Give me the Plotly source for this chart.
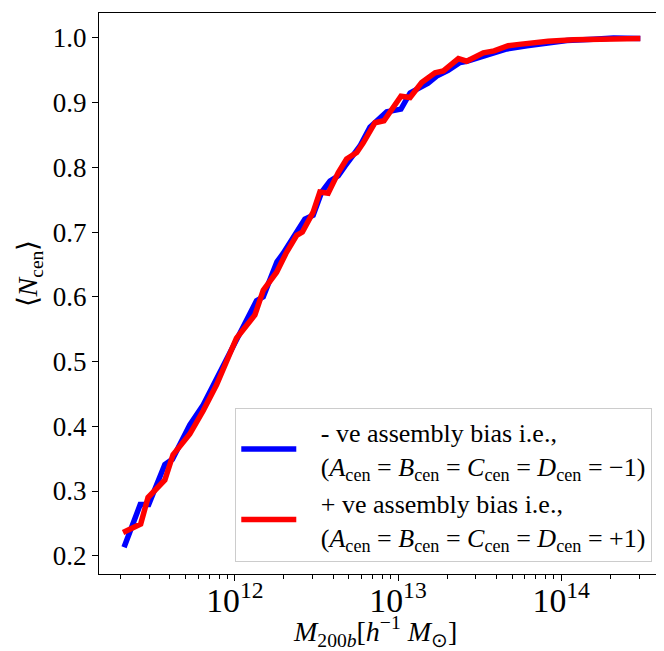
import numpy as np
import plotly.graph_objects as go

# log10(M200b) and <N_cen> for negative assembly bias (blue)
logm_neg = [11.321, 11.420, 11.472, 11.571, 11.617, 11.724, 11.806, 11.888, 11.969, 12.072,
            12.133, 12.174, 12.258, 12.296, 12.358, 12.429, 12.480, 12.532, 12.583, 12.634,
            12.675, 12.767, 12.828, 12.931, 13.018, 13.074, 13.184, 13.237, 13.307, 13.380,
            13.421, 13.544, 13.667, 13.790, 13.912, 14.035, 14.198, 14.321, 14.485]
ncen_neg = [0.213, 0.279, 0.279, 0.341, 0.349, 0.402, 0.433, 0.474, 0.515, 0.567,
            0.594, 0.600, 0.654, 0.667, 0.690, 0.720, 0.726, 0.762, 0.779, 0.787,
            0.802, 0.833, 0.862, 0.886, 0.890, 0.915, 0.930, 0.941, 0.950, 0.962,
            0.964, 0.973, 0.983, 0.988, 0.992, 0.996, 0.998, 1.000, 0.999]

# log10(M200b) and <N_cen> for positive assembly bias (red)
logm_pos = [11.315, 11.423, 11.468, 11.571, 11.621, 11.724, 11.806, 11.888, 12.010, 12.072,
            12.123, 12.174, 12.256, 12.313, 12.379, 12.414, 12.480, 12.521, 12.572, 12.634,
            12.685, 12.747, 12.787, 12.859, 12.914, 13.018, 13.074, 13.145, 13.227, 13.278,
            13.370, 13.421, 13.523, 13.589, 13.675, 13.742, 13.920, 14.075, 14.219, 14.362,
            14.485]
ncen_pos = [0.236, 0.249, 0.290, 0.317, 0.356, 0.388, 0.424, 0.464, 0.536, 0.554,
            0.572, 0.610, 0.638, 0.667, 0.695, 0.700, 0.731, 0.762, 0.760, 0.792,
            0.813, 0.823, 0.838, 0.869, 0.872, 0.910, 0.908, 0.931, 0.946, 0.949,
            0.968, 0.964, 0.977, 0.980, 0.988, 0.990, 0.995, 0.997, 0.998, 0.997,
            0.999]

GAP = "&nbsp;&nbsp;&nbsp;"
label_neg = (GAP + "- ve assembly bias i.e.,<br>" + GAP +
             "(<i>A</i><sub>cen</sub> = <i>B</i><sub>cen</sub> = <i>C</i><sub>cen</sub> = <i>D</i><sub>cen</sub> = \u22121)")
label_pos = (GAP + "+ ve assembly bias i.e.,<br>" + GAP +
             "(<i>A</i><sub>cen</sub> = <i>B</i><sub>cen</sub> = <i>C</i><sub>cen</sub> = <i>D</i><sub>cen</sub> = +1)")
xtitle = "<i>M</i><sub>200<i>b</i></sub>[<i>h</i><sup>\u22121</sup> <i>M</i><sub>\u2299</sub>]"
ytitle = "\u27e8<i>N</i><sub>cen</sub>\u27e9"

FONT = "Liberation Serif"

fig = go.Figure()
fig.add_trace(go.Scatter(x=10 ** np.array(logm_neg), y=ncen_neg, mode="lines",
                         line=dict(color="#0000ff", width=5.5), name=label_neg))
fig.add_trace(go.Scatter(x=10 ** np.array(logm_pos), y=ncen_pos, mode="lines",
                         line=dict(color="#ff0000", width=5.5), name=label_pos))

# page has an 8px body margin, so the figure is 8px smaller than the window
fig.update_layout(
    width=656, height=643,
    margin=dict(l=91, r=1, t=5, b=77),
    paper_bgcolor="white", plot_bgcolor="white",
    font=dict(family=FONT, size=24, color="black"),
    showlegend=True,
    legend=dict(x=0.981, y=0.022, xanchor="right", yanchor="bottom",
                bgcolor="rgba(255,255,255,0.85)", bordercolor="#cccccc", borderwidth=1,
                font=dict(family=FONT, size=26), tracegroupgap=0, itemwidth=55),
)
fig.add_annotation(text=xtitle, xref="paper", yref="paper", x=0.49, y=-0.103,
                   xanchor="center", yanchor="middle", showarrow=False,
                   font=dict(family=FONT, size=28))
fig.add_annotation(text=ytitle, xref="paper", yref="paper", x=-0.123, y=0.535,
                   xanchor="center", yanchor="middle", textangle=-90, showarrow=False,
                   font=dict(family=FONT, size=28))
fig.update_xaxes(
    type="log", range=[11.1675, 14.624], dtick=1, exponentformat="power",
    automargin=False, ticklabelstandoff=-8,
    showline=True, linecolor="black", linewidth=1.2, mirror=True,
    ticks="outside", ticklen=6, tickwidth=1, tickcolor="black",
    showgrid=False, zeroline=False,
    tickfont=dict(family=FONT, size=27),
    minor=dict(ticks="outside", dtick="D1", ticklen=3.5, tickwidth=0.8, tickcolor="black", showgrid=False),
)
fig.update_yaxes(
    range=[0.1718, 1.0385], dtick=0.1, tick0=0.2, tickformat=".1f",
    automargin=False,
    showline=True, linecolor="black", linewidth=1.2, mirror=True,
    ticks="outside", ticklen=6, tickwidth=1, tickcolor="black",
    showgrid=False, zeroline=False,
    tickfont=dict(family=FONT, size=27),
)

fig.write_html("out.html")
